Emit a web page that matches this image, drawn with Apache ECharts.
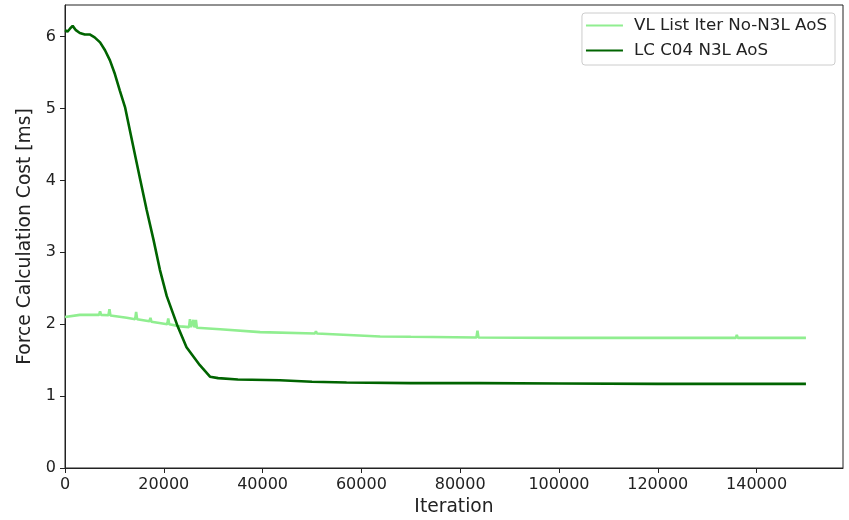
<!DOCTYPE html>
<html>
<head>
    <meta charset="utf-8">
    <title>Force Calculation Cost</title>
    <script src="https://cdn.jsdelivr.net/npm/echarts@6/dist/echarts.min.js"></script>
    <style>
        html, body { margin: 0; padding: 0; background: #fff; }
        #main { width: 849px; height: 520px; }
    </style>
</head>
<body>
<div id="main"></div>
<script>
    // LC C04 N3L AoS (dark green)
    var lcIter = [0, 500, 1000, 1550, 2200, 3000, 4000, 5000, 6000, 7100, 8100, 9100, 10100, 11100,
        12150, 13150, 14400, 15200, 16500, 17900, 19200, 20600, 22700, 24600, 27300, 29350, 31000,
        35000, 43500, 50000, 57000, 70000, 84000, 100000, 120000, 135000, 150000];
    var lcCost = [6.09, 6.07, 6.11, 6.15, 6.09, 6.05, 6.03, 6.03, 5.99, 5.92, 5.81, 5.67, 5.48, 5.25,
        5.02, 4.69, 4.28, 4.02, 3.60, 3.18, 2.76, 2.39, 1.99, 1.68, 1.43, 1.27, 1.25,
        1.23, 1.22, 1.20, 1.19, 1.18, 1.18, 1.175, 1.17, 1.17, 1.17];

    // VL List Iter No-N3L AoS (light green), spikes included
    var vlIter = [0, 3000, 6900, 7100, 7300, 8800, 9000, 9200, 12500, 14200, 14400, 14600,
        17100, 17300, 17500, 20700, 20900, 21100, 23300, 25100, 25300, 25500, 25800, 26000, 26200,
        26300, 26500, 26700, 31400, 39500, 50600, 50800, 51000, 63800, 70000, 83300, 83500, 83700,
        100000, 135800, 136000, 136200, 150000];
    var vlCost = [2.10, 2.13, 2.13, 2.18, 2.13, 2.125, 2.21, 2.12, 2.09, 2.07, 2.17, 2.07,
        2.04, 2.09, 2.035, 2.00, 2.08, 2.00, 1.97, 1.96, 2.07, 1.96, 1.955, 2.06, 1.955,
        1.955, 2.06, 1.95, 1.93, 1.89, 1.87, 1.90, 1.87, 1.83, 1.825, 1.815, 1.91, 1.815,
        1.81, 1.81, 1.85, 1.81, 1.81];

    var xTicks = [0, 20000, 40000, 60000, 80000, 100000, 120000, 140000];
    var yTicks = [0, 1, 2, 3, 4, 5, 6];

    function pairs(xs, ys) {
        var out = [];
        for (var i = 0; i < xs.length; i++) {
            out.push([xs[i], ys[i]]);
        }
        return out;
    }

    var font = 'DejaVu Sans';
    var axisColor = '#222';

    var myChart = echarts.init(document.getElementById('main'), null, { renderer: 'canvas' });
    myChart.setOption({
        animation: false,
        textStyle: { fontFamily: font },
        grid: {
            left: 65, right: 6, top: 5, bottom: 52,
            outerBoundsMode: 'none',
            containLabel: false,
            show: true, borderColor: axisColor, borderWidth: 1
        },
        legend: {
            orient: 'vertical',
            right: 14,
            top: 13,
            icon: 'rect',
            itemWidth: 37,
            itemHeight: 2,
            itemGap: 6,
            padding: [3, 8, 5, 4],
            borderColor: '#ccc',
            borderWidth: 1,
            borderRadius: 3,
            backgroundColor: 'rgba(255,255,255,0.8)',
            textStyle: { fontFamily: font, fontSize: 16.7, color: '#222', lineHeight: 19, padding: [0, 0, 0, 6] },
            data: ['VL List Iter No-N3L AoS', 'LC C04 N3L AoS']
        },
        xAxis: {
            type: 'value',
            min: 0,
            max: 157500,
            name: 'Iteration',
            nameLocation: 'middle',
            nameGap: 30,
            nameTextStyle: { fontFamily: font, fontSize: 18.7, color: '#222' },
            axisLine: { show: true, lineStyle: { color: axisColor, width: 1 } },
            axisTick: { show: true, length: 5, inside: false, customValues: xTicks, lineStyle: { color: axisColor } },
            axisLabel: {
                fontFamily: font, fontSize: 16, color: '#222', margin: 9,
                customValues: xTicks,
                formatter: function (v) { return String(v); }
            },
            splitLine: { show: false }
        },
        yAxis: {
            type: 'value',
            min: 0,
            max: 6.44,
            name: 'Force Calculation Cost [ms]',
            nameLocation: 'middle',
            nameGap: 27,
            nameRotate: 90,
            nameTextStyle: { fontFamily: font, fontSize: 18.7, color: '#222' },
            axisLine: { show: true, lineStyle: { color: axisColor, width: 1 } },
            axisTick: { show: true, length: 5, inside: false, customValues: yTicks, lineStyle: { color: axisColor } },
            axisLabel: {
                fontFamily: font, fontSize: 16, color: '#222', margin: 9,
                customValues: yTicks,
                formatter: function (v) { return String(v); }
            },
            splitLine: { show: false }
        },
        series: [
            {
                name: 'VL List Iter No-N3L AoS',
                type: 'line',
                data: pairs(vlIter, vlCost),
                showSymbol: false,
                symbol: 'none',
                lineStyle: { color: '#90ee90', width: 2.6 },
                itemStyle: { color: '#90ee90' }
            },
            {
                name: 'LC C04 N3L AoS',
                type: 'line',
                data: pairs(lcIter, lcCost),
                showSymbol: false,
                symbol: 'none',
                lineStyle: { color: '#006400', width: 2.6 },
                itemStyle: { color: '#006400' }
            }
        ]
    });
</script>
</body>
</html>
